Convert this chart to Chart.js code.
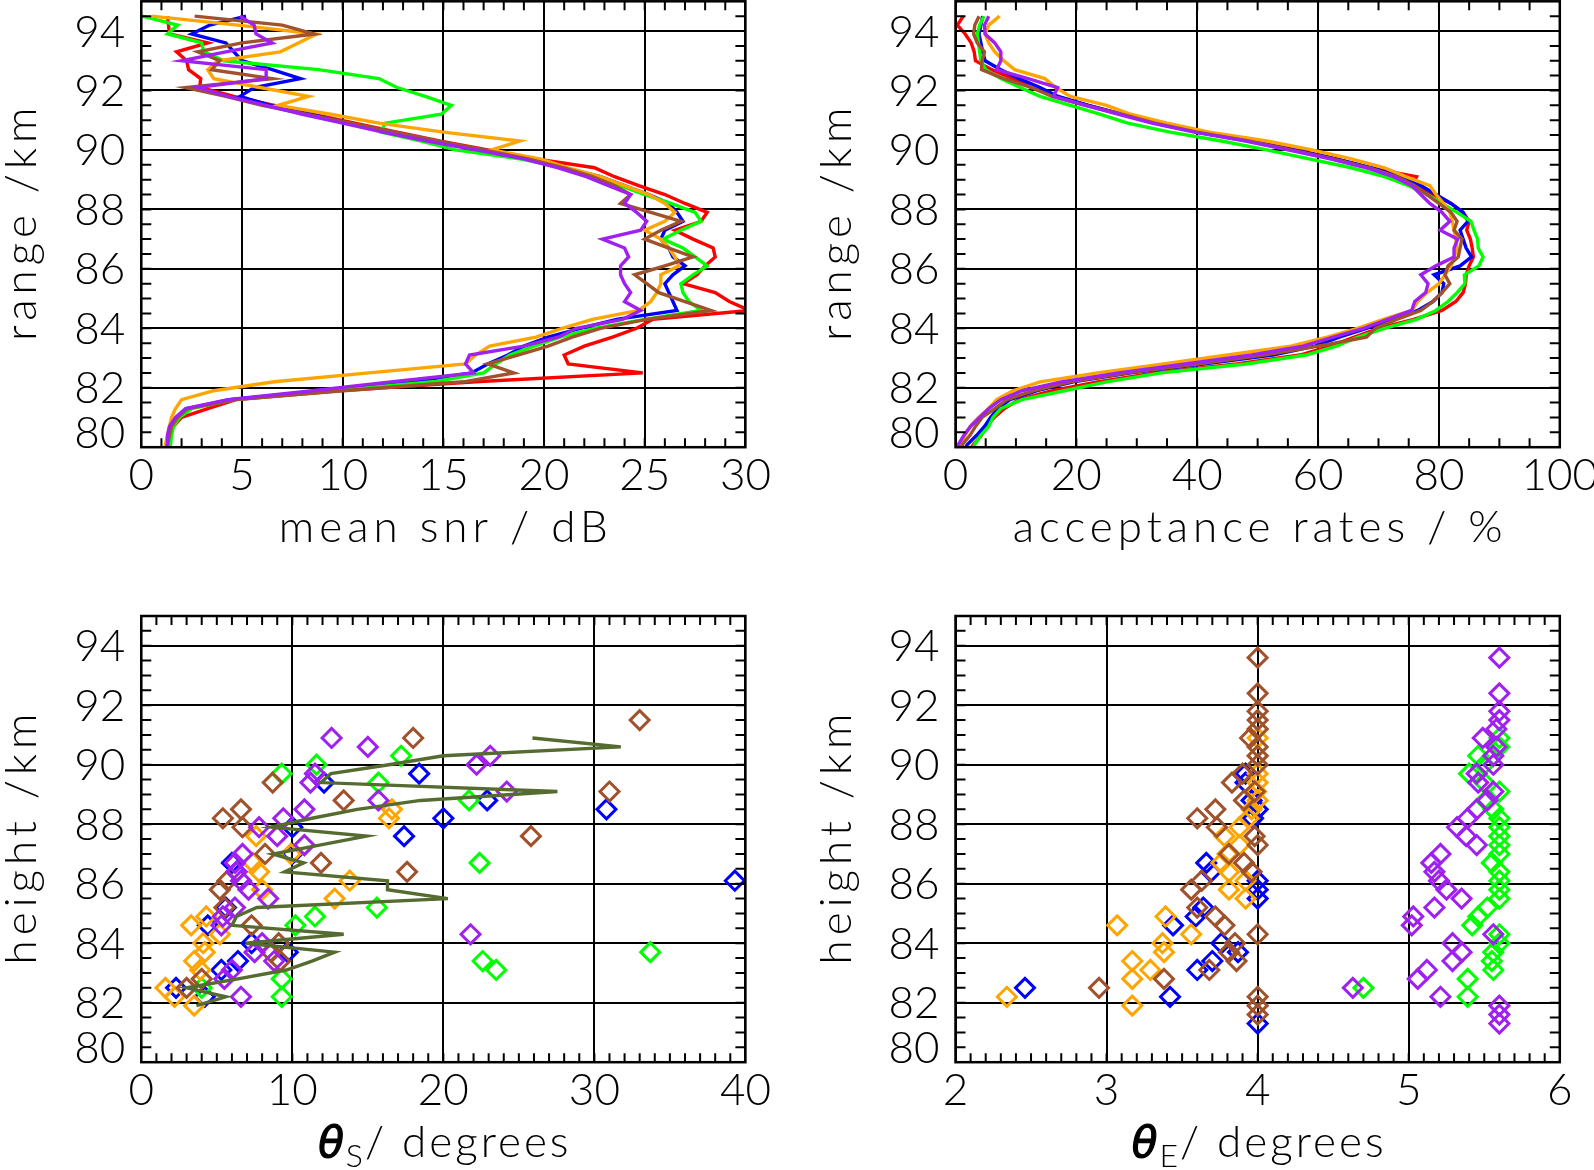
<!DOCTYPE html>
<html>
<head>
<meta charset="utf-8">
<script src="https://cdn.jsdelivr.net/npm/chart.js@4.4.1/dist/chart.umd.min.js"></script>
<style>
  html, body { margin: 0; padding: 0; background: #fff; }
  #wrap { position: relative; width: 1594px; height: 1170px; overflow: hidden; background: #fff; }
  canvas { position: absolute; left: 0; top: 0; }
</style>
</head>
<body>
<div id="wrap">
  <canvas id="snrChart" width="1594" height="1170"></canvas>
  <canvas id="accChart" width="1594" height="1170"></canvas>
  <canvas id="thetaSChart" width="1594" height="1170"></canvas>
  <canvas id="thetaEChart" width="1594" height="1170"></canvas>
</div>
<script>
// range gates (km), top to bottom
const ranges = [94.5, 94.2, 93.9, 93.6, 93.3, 93.0, 92.7, 92.4, 92.1, 91.8,
  91.5, 91.2, 90.9, 90.6, 90.3, 90.0, 89.7, 89.4, 89.1, 88.8,
  88.5, 88.2, 87.9, 87.6, 87.3, 87.0, 86.7, 86.4, 86.1, 85.8,
  85.5, 85.2, 84.9, 84.6, 84.3, 84.0, 83.7, 83.4, 83.1, 82.8,
  82.5, 82.2, 81.9, 81.6, 81.3, 81.0, 80.7, 80.4, 80.1, 79.8];

// mean snr / dB
const snrRed = [1.3, 1.35, 1.4, 3.3, 1.75, 2.25, 2.35, 2.95, 2.9, 4.6,
  6.6, 8.5, 10.6, 12.7, 14.8, 17.2, 19.6, 22.5, 23.5, 24.7,
  26.0, 27.0, 28.1, 27.8, 26.5, 27.4, 28.4, 28.5, 28.0, 27.6,
  26.9, 28.5, 29.2, 30.2, 25.4, 24.6, 23.4, 22.0, 21.0, 21.2,
  24.9, 16.6, 9.8, 4.7, 3.3, 2.0, 1.6, 1.4, 1.3, 1.3];
const snrBlue = [5.2, 3.4, 2.5, 4.2, 4.6, 5.0, 6.5, 7.9, 5.6, 4.9,
  6.4, 8.4, 10.3, 12.3, 14.4, 16.8, 19.2, 21.0, 22.8, 24.0,
  25.2, 26.2, 26.6, 26.9, 26.0, 25.8, 26.2, 26.4, 27.0, 26.4,
  26.0, 26.2, 26.4, 26.6, 23.6, 21.8, 20.2, 19.0, 18.2, 17.2,
  16.4, 13.5, 9.0, 4.4, 2.3, 1.8, 1.5, 1.4, 1.3, 1.25];
const snrGreen = [0.05, 1.8, 1.3, 3.0, 3.1, 4.1, 8.8, 11.8, 12.7, 14.1,
  15.4, 14.9, 12.1, 11.9, 13.9, 15.6, 18.8, 21.0, 22.7, 23.8,
  25.0, 26.3, 27.5, 27.8, 26.8, 25.9, 26.9, 27.5, 28.1, 27.4,
  26.8, 26.9, 27.2, 27.8, 25.0, 22.5, 20.8, 19.5, 18.3, 17.6,
  17.0, 14.5, 9.5, 4.6, 2.5, 1.9, 1.6, 1.5, 1.45, 1.4];
const snrOrange = [0.5, 4.8, 8.7, 7.8, 6.9, 3.8, 3.3, 3.6, 5.9, 8.3,
  6.8, 9.4, 11.8, 15.0, 18.8, 17.4, 19.8, 21.2, 22.8, 24.0,
  25.2, 26.0, 26.5, 26.0, 25.0, 25.8, 26.2, 26.5, 26.7, 25.8,
  25.8, 25.6, 25.3, 24.7, 22.4, 20.9, 19.6, 17.3, 16.6, 16.1,
  11.3, 6.6, 3.6, 2.0, 1.7, 1.5, 1.4, 1.3, 1.2, 1.2];
const snrBrown = [2.65, 7.0, 8.6, 5.0, 2.8, 3.9, 3.5, 6.5, 2.2, 4.2,
  6.0, 8.2, 10.4, 12.6, 14.7, 17.0, 19.2, 21.0, 22.4, 23.5,
  24.3, 23.8, 25.3, 26.8, 25.8, 25.0, 26.2, 27.4, 26.0, 24.5,
  25.1, 25.7, 27.0, 28.3, 25.1, 22.8, 21.4, 20.2, 18.7, 17.2,
  18.5, 16.0, 10.0, 4.7, 2.3, 1.8, 1.5, 1.4, 1.3, 1.25];
const snrPurple = [4.9, 5.6, 5.7, 6.5, 4.2, 2.0, 6.2, 6.2, 2.8, 4.3,
  6.2, 8.0, 10.0, 12.0, 14.2, 16.6, 19.0, 20.7, 22.1, 23.2,
  24.3, 24.0, 24.6, 25.1, 24.8, 22.9, 24.0, 24.2, 23.8, 23.8,
  24.0, 24.3, 24.0, 24.8, 23.9, 21.6, 20.7, 19.0, 16.3, 16.1,
  16.5, 12.5, 8.5, 4.3, 2.2, 1.7, 1.4, 1.3, 1.3, 1.2];

// acceptance rates / %
const accRed = [1.3, 0.3, 1.6, 2.6, 3.1, 3.3, 6.0, 9.5, 12.5, 16.5,
  22.0, 27.5, 33.5, 40.5, 49.0, 56.5, 63.0, 68.5, 76.3, 75.6,
  79.0, 82.0, 84.0, 85.0, 84.6, 85.2, 85.5, 85.7, 85.0, 84.5,
  84.4, 84.0, 82.8, 80.5, 75.8, 70.0, 66.0, 62.0, 57.0, 46.5,
  33.0, 23.5, 16.0, 10.5, 8.1, 6.4, 5.0, 4.3, 3.0, 2.0];
const accBlue = [4.5, 4.2, 3.9, 4.2, 4.5, 4.9, 7.5, 10.5, 14.0, 17.0,
  22.0, 27.5, 33.0, 40.0, 48.5, 56.0, 63.0, 69.0, 73.5, 77.0,
  79.5, 82.0, 84.0, 84.8, 83.5, 84.0, 84.5, 85.4, 83.5, 79.2,
  80.8, 80.5, 79.0, 76.5, 72.5, 68.0, 63.5, 59.5, 52.5, 41.0,
  29.0, 19.5, 13.5, 9.0, 7.0, 5.8, 4.8, 3.5, 2.0, 1.0];
const accGreen = [4.7, 4.0, 3.6, 3.8, 4.0, 4.2, 5.0, 7.5, 10.7, 14.0,
  19.0, 24.0, 28.5, 35.5, 44.0, 51.5, 58.5, 65.5, 71.0, 75.0,
  78.0, 80.5, 83.0, 85.3, 85.8, 86.4, 86.5, 87.3, 86.6, 84.2,
  84.3, 83.0, 81.5, 79.5, 76.3, 71.0, 66.6, 63.0, 58.0, 48.0,
  34.0, 25.0, 18.0, 11.0, 7.5, 6.2, 5.5, 4.2, 3.2, 2.4];
const accOrange = [7.3, 5.5, 4.9, 5.5, 6.5, 8.0, 9.8, 14.8, 16.6, 19.0,
  25.0, 29.0, 35.0, 42.0, 51.5, 59.0, 65.5, 71.0, 74.5, 78.5,
  79.5, 80.8, 81.8, 82.2, 82.5, 82.8, 83.0, 82.5, 82.0, 81.0,
  80.0, 78.0, 76.5, 75.5, 70.8, 66.5, 61.5, 55.5, 45.0, 34.4,
  23.5, 14.0, 9.5, 6.8, 5.5, 3.8, 2.4, 1.6, 0.8, 0.2];
const accBrown = [3.9, 3.2, 3.0, 3.6, 4.8, 4.4, 4.3, 8.0, 12.5, 16.0,
  21.5, 27.5, 33.0, 40.0, 48.5, 55.5, 62.5, 68.5, 73.0, 76.0,
  78.0, 80.0, 82.0, 83.0, 82.5, 83.8, 83.5, 83.2, 81.5, 81.0,
  81.8, 80.5, 79.0, 77.0, 73.0, 69.5, 68.0, 60.0, 51.0, 40.0,
  28.5, 19.0, 13.0, 8.5, 6.5, 4.4, 3.3, 2.4, 1.2, 0.5];
const accPurple = [5.5, 4.8, 4.9, 6.5, 7.5, 7.5, 6.8, 12.0, 16.9, 16.2,
  21.5, 27.0, 32.5, 39.5, 48.0, 55.0, 62.0, 68.0, 72.5, 75.5,
  77.0, 78.5, 80.5, 81.8, 80.2, 83.1, 82.5, 82.5, 79.5, 77.0,
  78.2, 77.8, 76.0, 75.5, 71.5, 67.5, 62.5, 57.5, 49.0, 38.0,
  27.0, 17.5, 11.0, 7.5, 5.5, 4.0, 2.5, 1.4, 0.5, 0.0];

// theta_S profile (olive line)
const oliveHeights = [90.9, 90.6, 90.3, 90.0, 89.7, 89.4, 89.1, 88.8, 88.5, 88.2,
  87.9, 87.6, 87.3, 87.0, 86.7, 86.4, 86.1, 85.8, 85.5, 85.2,
  84.9, 84.6, 84.3, 84.0, 83.7, 83.4, 83.1, 82.8, 82.5, 82.2, 81.9];
const oliveThetaS = [25.9, 31.75, 20.0, 16.4, 12.55, 11.9, 27.55, 18.5, 14.3, 11.3,
  8.6, 14.9, 11.8, 8.7, 10.75, 9.5, 16.3, 16.3, 20.3, 7.65,
  6.3, 6.0, 13.4, 6.9, 12.8, 11.3, 9.6, 6.4, 3.0, 5.6, 3.65];

// theta_S points [degrees, km]
const thSBlue = [[18.4, 89.7], [12.1, 89.4], [22.9, 88.8], [30.8, 88.5], [20.0, 88.2], [10.0, 87.9],
  [17.4, 87.6], [10.0, 87.0], [6.0, 86.7], [6.3, 86.4], [39.3, 86.1], [5.6, 85.2], [4.4, 84.6],
  [7.3, 84.0], [9.7, 83.7], [6.4, 83.4], [5.3, 83.1], [2.3, 82.5], [4.2, 82.2]];
const thSGreen = [[17.2, 90.3], [11.6, 90.0], [9.3, 89.7], [15.7, 89.4], [21.7, 88.8], [22.4, 86.7],
  [15.6, 85.2], [11.5, 84.9], [10.2, 84.6], [33.7, 83.7], [22.6, 83.4], [23.5, 83.1], [9.3, 82.8],
  [9.3, 82.2], [4.0, 82.5]];
const thSPurple = [[12.6, 90.9], [15.0, 90.6], [23.1, 90.3], [22.2, 90.0], [11.5, 89.7], [11.2, 89.4],
  [24.2, 89.1], [15.7, 88.8], [10.8, 88.5], [9.4, 88.2], [7.8, 87.9], [9.0, 87.6], [10.8, 87.3],
  [6.7, 87.0], [6.2, 86.7], [6.3, 86.4], [6.6, 86.1], [7.1, 85.8], [8.4, 85.5], [6.2, 85.2],
  [5.4, 84.9], [5.3, 84.6], [21.8, 84.3], [8.0, 84.0], [7.5, 83.7], [8.8, 83.4], [6.0, 83.1],
  [5.5, 82.8], [6.6, 82.2]];
const thSBrown = [[33.0, 91.5], [18.0, 90.9], [8.7, 89.4], [31.0, 89.1], [13.4, 88.8], [6.6, 88.5],
  [5.4, 88.2], [6.7, 87.9], [25.8, 87.6], [8.2, 87.0], [11.9, 86.7], [17.6, 86.4], [5.7, 86.1],
  [5.2, 85.8], [5.5, 85.2], [7.3, 84.6], [9.1, 84.0], [8.6, 83.7], [9.2, 83.4], [4.0, 82.8], [3.0, 82.5]];
const thSOrange = [[16.6, 88.5], [16.4, 88.2], [7.6, 87.6], [10.8, 87.3], [9.9, 87.0], [7.4, 86.7],
  [7.8, 86.4], [13.8, 86.1], [8.0, 85.8], [12.8, 85.5], [4.3, 84.9], [3.3, 84.6], [5.2, 84.3],
  [4.1, 84.0], [4.2, 83.7], [3.5, 83.4], [3.9, 83.1], [1.6, 82.5], [2.2, 82.2], [3.5, 81.9]];

// theta_E points [degrees, km]
const thEBrown = [[4.0, 93.6], [4.0, 92.4], [4.0, 91.8], [4.0, 91.5], [4.0, 91.2], [3.95, 90.9],
  [4.0, 90.6], [4.0, 90.3], [4.0, 90.0], [3.9, 89.7], [3.83, 89.4], [3.98, 89.1], [3.91, 88.8],
  [3.72, 88.5], [3.6, 88.2], [3.73, 87.9], [3.98, 87.6], [4.0, 87.3], [3.81, 87.0], [3.91, 86.7],
  [3.96, 86.4], [3.63, 86.1], [3.56, 85.8], [3.6, 85.2], [3.72, 84.9], [3.78, 84.6], [4.0, 84.3],
  [3.85, 84.0], [3.81, 83.7], [3.86, 83.4], [3.68, 83.1], [3.38, 82.8], [2.95, 82.5], [4.0, 82.2],
  [4.0, 81.9], [4.0, 81.6]];
const thEOrange = [[4.0, 91.2], [4.0, 90.9], [4.0, 90.3], [4.0, 89.7], [4.0, 89.4], [3.99, 89.1],
  [4.0, 88.8], [3.96, 88.5], [3.94, 88.2], [3.88, 87.9], [3.78, 87.6], [3.88, 87.3], [3.8, 87.0],
  [3.76, 86.7], [3.81, 86.4], [3.92, 86.1], [3.81, 85.8], [3.92, 85.5], [3.39, 84.9], [3.07, 84.6],
  [3.56, 84.3], [3.37, 84.0], [3.38, 83.7], [3.17, 83.4], [3.29, 83.1], [3.17, 82.8], [2.34, 82.2],
  [3.17, 81.9]];
const thEBlue = [[3.92, 89.7], [3.92, 89.4], [3.96, 88.8], [4.0, 88.5], [3.97, 88.2], [3.66, 86.7],
  [3.69, 86.4], [4.0, 86.1], [4.0, 85.8], [4.0, 85.5], [3.64, 85.2], [3.59, 84.9], [3.44, 84.6],
  [3.76, 84.0], [3.87, 83.7], [3.7, 83.4], [3.6, 83.1], [2.46, 82.5], [3.42, 82.2], [4.0, 81.3]];
const thEPurple = [[5.6, 93.6], [5.6, 92.4], [5.6, 91.8], [5.6, 91.5], [5.58, 91.2], [5.49, 90.9],
  [5.58, 90.6], [5.56, 90.3], [5.56, 90.0], [5.45, 89.7], [5.46, 89.4], [5.56, 89.1], [5.52, 88.8],
  [5.45, 88.5], [5.39, 88.2], [5.32, 87.9], [5.38, 87.6], [5.45, 87.3], [5.21, 87.0], [5.15, 86.7],
  [5.17, 86.4], [5.2, 86.1], [5.25, 85.8], [5.35, 85.5], [5.17, 85.2], [5.03, 84.9], [5.02, 84.6],
  [5.56, 84.3], [5.29, 84.0], [5.35, 83.7], [5.29, 83.4], [5.12, 83.1], [5.06, 82.8], [4.63, 82.5],
  [5.21, 82.2], [5.6, 81.9], [5.6, 81.6], [5.6, 81.3]];
const thEGreen = [[5.6, 90.9], [5.6, 90.6], [5.46, 90.3], [5.5, 90.0], [5.4, 89.7], [5.5, 89.4],
  [5.6, 89.1], [5.51, 88.8], [5.56, 88.5], [5.6, 88.2], [5.6, 87.9], [5.6, 87.6], [5.6, 87.3],
  [5.6, 87.0], [5.55, 86.7], [5.6, 86.4], [5.6, 86.1], [5.6, 85.8], [5.6, 85.5], [5.52, 85.2],
  [5.46, 84.9], [5.42, 84.6], [5.6, 84.3], [5.6, 84.0], [5.56, 83.7], [5.55, 83.4], [5.56, 83.1],
  [5.39, 82.8], [4.7, 82.5], [5.39, 82.2]];

// tick labels
const kmTicks = [80, 82, 84, 86, 88, 90, 92, 94];
const snrTicks = [0, 5, 10, 15, 20, 25, 30];
const accTicks = [0, 20, 40, 60, 80, 100];
const thetaSTicks = [0, 10, 20, 30, 40];
const thetaETicks = [2, 3, 4, 5, 6];

const W = 1594, H = 1170;
const FONT = 'Lato, "DejaVu Sans", sans-serif';
const C = {
  red: '#ff0000', blue: '#0000ff', green: '#00ff00', orange: '#ffa500',
  brown: '#a0522d', purple: '#a020f0', olive: '#556b2f'
};

// draws the frame, minor ticks, tick labels and axis titles
const framePlugin = {
  id: 'frame',
  afterDraw(chart, args, o) {
    const { ctx, chartArea: a, scales: { x, y } } = chart;
    ctx.save();
    ctx.strokeStyle = '#000';
    ctx.lineWidth = 2;
    ctx.beginPath();
    const nx = Math.round((x.max - x.min) / o.xMinor);
    for (let i = 1; i < nx; i++) {
      const px = x.getPixelForValue(x.min + i * o.xMinor);
      ctx.moveTo(px, a.bottom); ctx.lineTo(px, a.bottom - 9);
      ctx.moveTo(px, a.top); ctx.lineTo(px, a.top + 9);
    }
    const ny = Math.round((y.max - y.min) / o.yMinor);
    for (let i = 1; i < ny; i++) {
      const py = y.getPixelForValue(y.min + i * o.yMinor);
      ctx.moveTo(a.left, py); ctx.lineTo(a.left + 10, py);
      ctx.moveTo(a.right, py); ctx.lineTo(a.right - 10, py);
    }
    ctx.stroke();
    ctx.lineWidth = 2.5;
    ctx.strokeRect(a.left, a.top, a.right - a.left, a.bottom - a.top);

    // tick labels
    ctx.fillStyle = '#000';
    ctx.letterSpacing = '0px';
    ctx.font = '300 44px ' + FONT;
    ctx.textBaseline = 'alphabetic';
    ctx.textAlign = 'center';
    x.ticks.forEach(t => ctx.fillText(String(t.value), x.getPixelForValue(t.value), a.bottom + 43));
    ctx.textAlign = 'right';
    y.ticks.forEach(t => {
      const py = y.getPixelForValue(t.value);
      ctx.fillText(String(t.value), a.left - 16, Math.min(py + 15.5, a.bottom + 1));
    });

    // y title
    ctx.textAlign = 'left';
    ctx.letterSpacing = '5px';
    ctx.save();
    ctx.translate(a.left - 105, (a.top + a.bottom) / 2);
    ctx.rotate(-Math.PI / 2);
    const wy = ctx.measureText(o.yTitle).width - 5;
    ctx.fillText(o.yTitle, -wy / 2, 0);
    ctx.restore();

    // x title
    const cx = (a.left + a.right) / 2, base = a.bottom + 95;
    if (o.sub) {
      const thFont = 'oblique 42px "DejaVu Sans"';
      ctx.letterSpacing = '0px';
      ctx.font = thFont;
      const wTh = ctx.measureText('θ').width;
      ctx.font = '300 32px ' + FONT;
      const wSub = ctx.measureText(o.sub).width;
      ctx.font = '300 44px ' + FONT;
      ctx.letterSpacing = '3px';
      const rest = '/ degrees';
      const wRest = ctx.measureText(rest).width - 3;
      const total = wTh + 2 + wSub + 2 + wRest;
      let sx = cx - total / 2;
      ctx.letterSpacing = '0px';
      ctx.font = thFont;
      ctx.lineWidth = 1.2;
      ctx.strokeStyle = '#000';
      ctx.fillText('θ', sx, base);
      ctx.strokeText('θ', sx, base);
      sx += wTh + 2;
      ctx.font = '300 32px ' + FONT;
      ctx.fillText(o.sub, sx, base + 10);
      sx += wSub + 2;
      ctx.font = '300 44px ' + FONT;
      ctx.letterSpacing = '3px';
      ctx.fillText(rest, sx, base);
    } else {
      const wx = ctx.measureText(o.xTitle).width - 5;
      ctx.fillText(o.xTitle, cx - wx / 2, base);
    }
    ctx.restore();
  }
};

function lineSet(values, heights, color) {
  return {
    data: values.map((v, i) => ({ x: v, y: heights[i] })),
    showLine: true, borderColor: color, borderWidth: 3.4,
    pointRadius: 0, tension: 0, fill: false
  };
}

function diamondSet(points, color) {
  return {
    data: points.map(p => ({ x: p[0], y: p[1] })),
    showLine: false, pointStyle: 'rectRot', pointRadius: 9.5,
    borderColor: color, pointBorderColor: color, backgroundColor: 'rgba(0,0,0,0)',
    pointBackgroundColor: 'rgba(0,0,0,0)', borderWidth: 3, pointBorderWidth: 3
  };
}

function makePanel(id, box, xr, xTicks, frame, datasets) {
  return new Chart(document.getElementById(id), {
    type: 'scatter',
    data: { datasets },
    options: {
      responsive: false,
      animation: false,
      devicePixelRatio: 1,
      events: [],
      layout: { padding: { left: box.l, top: box.t, right: W - box.r, bottom: H - box.b } },
      plugins: { legend: { display: false }, tooltip: { enabled: false }, frame },
      scales: {
        x: {
          type: 'linear', min: xr[0], max: xr[1],
          afterBuildTicks: s => { s.ticks = xTicks.map(v => ({ value: v })); },
          ticks: { display: false },
          grid: { color: '#000', lineWidth: 2, drawTicks: false },
          border: { display: false }
        },
        y: {
          type: 'linear', min: 80, max: 95,
          afterBuildTicks: s => { s.ticks = kmTicks.map(v => ({ value: v })); },
          ticks: { display: false },
          grid: { color: '#000', lineWidth: 2, drawTicks: false },
          border: { display: false }
        }
      }
    },
    plugins: [framePlugin]
  });
}

const topL = { l: 141.3, r: 745.4, t: 1.3, b: 447.2 };
const topR = { l: 955.5, r: 1559.8, t: 1.3, b: 447.2 };
const botL = { l: 141.3, r: 745.4, t: 616, b: 1062.2 };
const botR = { l: 955.5, r: 1559.8, t: 616, b: 1062.2 };

makePanel('snrChart', topL, [0, 30], snrTicks,
  { xMinor: 1, yMinor: 0.5, xTitle: 'mean snr / dB', yTitle: 'range /km' },
  [
    lineSet(snrPurple, ranges, C.purple),
    lineSet(snrBrown, ranges, C.brown),
    lineSet(snrOrange, ranges, C.orange),
    lineSet(snrGreen, ranges, C.green),
    lineSet(snrBlue, ranges, C.blue),
    lineSet(snrRed, ranges, C.red)
  ]);

makePanel('accChart', topR, [0, 100], accTicks,
  { xMinor: 5, yMinor: 0.5, xTitle: 'acceptance rates / %', yTitle: 'range /km' },
  [
    lineSet(accPurple, ranges, C.purple),
    lineSet(accBrown, ranges, C.brown),
    lineSet(accOrange, ranges, C.orange),
    lineSet(accGreen, ranges, C.green),
    lineSet(accBlue, ranges, C.blue),
    lineSet(accRed, ranges, C.red)
  ]);

makePanel('thetaSChart', botL, [0, 40], thetaSTicks,
  { xMinor: 1, yMinor: 0.5, sub: 'S', yTitle: 'height /km' },
  [
    lineSet(oliveThetaS, oliveHeights, C.olive),
    diamondSet(thSPurple, C.purple),
    diamondSet(thSBrown, C.brown),
    diamondSet(thSOrange, C.orange),
    diamondSet(thSGreen, C.green),
    diamondSet(thSBlue, C.blue)
  ]);

makePanel('thetaEChart', botR, [2, 6], thetaETicks,
  { xMinor: 0.1, yMinor: 0.5, sub: 'E', yTitle: 'height /km' },
  [
    diamondSet(thEPurple, C.purple),
    diamondSet(thEBrown, C.brown),
    diamondSet(thEOrange, C.orange),
    diamondSet(thEGreen, C.green),
    diamondSet(thEBlue, C.blue)
  ]);
</script>
</body>
</html>
